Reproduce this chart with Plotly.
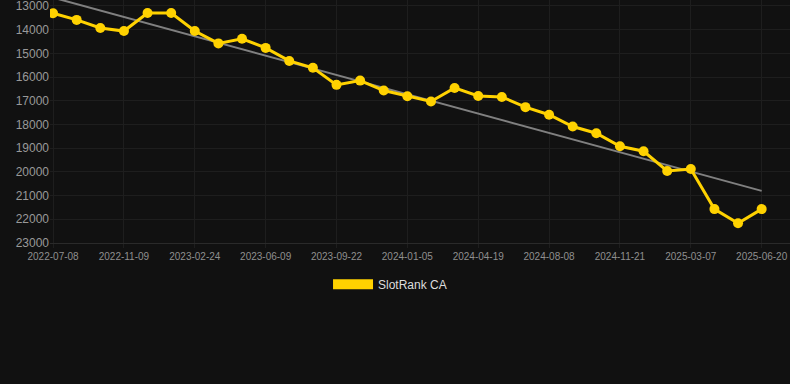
import plotly.graph_objects as go

dates = ["2022-07-08", "2022-08-19", "2022-09-29", "2022-11-09", "2022-12-15", "2023-01-19",
         "2023-02-24", "2023-03-31", "2023-05-05", "2023-06-09", "2023-07-14", "2023-08-18",
         "2023-09-22", "2023-10-27", "2023-12-01", "2024-01-05", "2024-02-09", "2024-03-15",
         "2024-04-19", "2024-05-24", "2024-07-01", "2024-08-08", "2024-09-12", "2024-10-17",
         "2024-11-21", "2024-12-26", "2025-01-30", "2025-03-07", "2025-04-11", "2025-05-16",
         "2025-06-20"]
rank = [13310, 13590, 13930, 14060, 13300, 13300, 14060, 14580, 14385, 14770, 15320, 15610,
        16330, 16150, 16570, 16810, 17030, 16460, 16800, 16840, 17270, 17590, 18085, 18370,
        18920, 19130, 19960, 19880, 21570, 22170, 21570]
trend_ends = [12650, 20800]
tick_labels = dates[::3]
y_ticks = list(range(13000, 23001, 1000))
y_tick_text = [str(v) for v in y_ticks]
series_name = "SlotRank CA"

gold = "#FFD200"
fig = go.Figure()
fig.add_trace(go.Scatter(x=[dates[0], dates[-1]], y=trend_ends, mode="lines",
                         line=dict(color="#808080", width=2), showlegend=False, hoverinfo="skip"))
fig.add_trace(go.Scatter(x=dates, y=rank, mode="lines+markers", name=series_name,
                         line=dict(color=gold, width=3), marker=dict(size=10, color=gold),
                         showlegend=False))
fig.add_trace(go.Scatter(x=[None], y=[None], mode="lines", name=series_name,
                         line=dict(color=gold, width=11), showlegend=True))

fig.update_layout(
    width=790, height=384,
    paper_bgcolor="#111111", plot_bgcolor="#111111",
    margin=dict(l=50, r=0, t=0, b=141, autoexpand=False),
    font=dict(family="Liberation Sans, Arial, sans-serif", color="#999999"),
    showlegend=True,
    legend=dict(orientation="h", x=0.4595, xanchor="center", y=-0.11, yanchor="top",
                itemwidth=40,
                font=dict(size=12, color="#dddddd"), bgcolor="rgba(0,0,0,0)"),
    xaxis=dict(type="category", categoryorder="array", categoryarray=dates,
               tickmode="array", tickvals=tick_labels, ticktext=tick_labels, tickangle=0,
               range=[-0.13, 31.2], showgrid=True, gridcolor="#1e1e1e",
               showline=True, linecolor="#2a2a2a", ticks="outside", ticklen=4,
               tickcolor="#1e1e1e", tickfont=dict(size=10, color="#8f8f8f"), zeroline=False,
               ticklabeloverflow="allow"),
    yaxis=dict(range=[23000, 12750], tickmode="array", tickvals=y_ticks, ticktext=y_tick_text,
               showgrid=True, gridcolor="#1e1e1e", zeroline=False,
               tickfont=dict(size=12, color="#999999"), ticks="", ticklabeloverflow="allow"),
)
fig.write_html("out.html", config={"displayModeBar": False},
               post_script="document.body.style.margin='0';document.body.style.background='#111111';")
